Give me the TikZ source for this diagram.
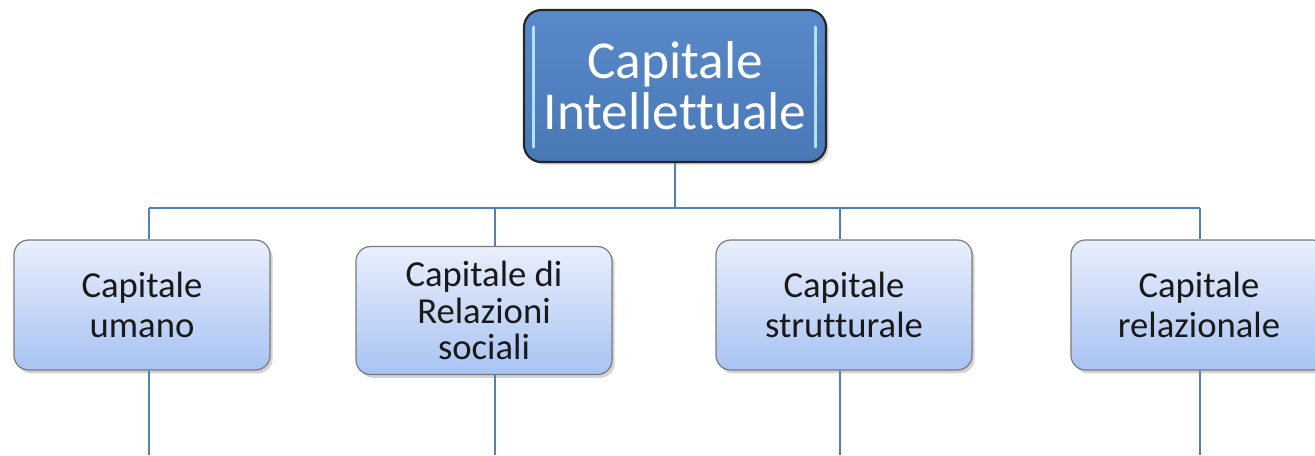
\documentclass[tikz,border=0pt]{standalone}
\usepackage{fontspec}
\setmainfont[Ligatures=NoCommon]{Carlito}
\usetikzlibrary{shadows,calc}
\definecolor{linkblue}{HTML}{4F81BD}
\definecolor{topfill}{HTML}{5989C8}
\definecolor{topfillb}{HTML}{4878B6}
\definecolor{childtop}{HTML}{E9EFFC}
\definecolor{childbot}{HTML}{A8C3F3}
\definecolor{childedge}{HTML}{7A7A7A}
\begin{document}
\begin{tikzpicture}[x=0.75pt,y=-0.75pt,
  rootbox/.style={draw=black!85,line width=1.6pt,rounded corners=13pt,
    top color=topfill,bottom color=topfillb,
    minimum width=302*0.75pt,minimum height=152*0.75pt,
    text=white,align=center,inner sep=0pt,
    font=\fontsize{40}{40.5}\selectfont,
    drop shadow={shadow xshift=2pt,shadow yshift=-2pt,opacity=0.35}},
  childbox/.style={draw=childedge,line width=0.9pt,rounded corners=11pt,
    top color=childtop,bottom color=childbot,
    minimum width=256*0.75pt,minimum height=130*0.75pt,
    text=black!90,align=center,inner sep=0pt,
    font=\fontsize{27.5}{30}\selectfont,
    drop shadow={shadow xshift=2pt,shadow yshift=-2.5pt,opacity=0.35}},
  hilite/.style={white!75!cyan,line width=2.2pt,line cap=round,opacity=0.9},
  link/.style={draw=linkblue,line width=1.5pt}]
\useasboundingbox (0,0) rectangle (1315,455);
\node[rootbox] (root) at (675,86) {Capitale\\[-2pt]Intellettuale};
\draw[hilite] ($(root.north west)+(11,18)$) -- ($(root.south west)+(11,-16)$);
\draw[hilite] ($(root.north east)+(-12,18)$) -- ($(root.south east)+(-12,-16)$);
\node[childbox] (c1) at (142,305) {Capitale\\umano};
\node[childbox,minimum height=128*0.75pt,font=\fontsize{27.5}{27.5}\selectfont] (c2) at (484,310.5) {Capitale di\\Relazioni\\sociali};
\node[childbox] (c3) at (844,305) {Capitale\\strutturale};
\node[childbox] (c4) at (1199,305) {Capitale\\relazionale};
\coordinate (j0) at (675,208);
\coordinate (b1) at (149,208);
\coordinate (b2) at (495,208);
\coordinate (b3) at (840,208);
\coordinate (b4) at (1200,208);
\coordinate (e1) at (149,455);
\coordinate (e2) at (495,455);
\coordinate (e3) at (840,455);
\coordinate (e4) at (1200,455);
\draw[link] (root.south -| j0) -- (j0);
\draw[link] (b1) -- (b4);
\foreach \i in {1,2,3,4}{
  \draw[link] (b\i) -- (b\i |- c\i.north);
  \draw[link] (b\i |- c\i.south) -- (e\i);
}
\end{tikzpicture}
\end{document}
